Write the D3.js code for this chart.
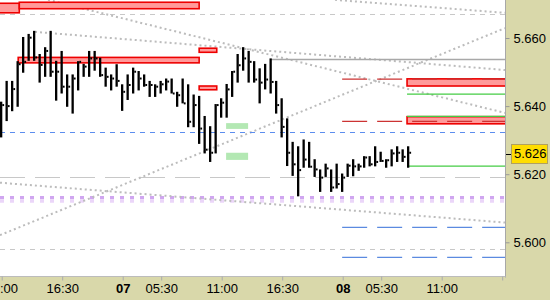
<!DOCTYPE html>
<html><head><meta charset="utf-8">
<script src="https://cdn.jsdelivr.net/npm/d3@7"></script>
<style>html,body{margin:0;padding:0;background:#d9d8aa;overflow:hidden}</style>
</head><body><svg id="c" width="550" height="300"></svg>
<script>
// ---- data ----
const highs = [5.6413,5.6474,5.6474,5.6532,5.6603,5.6612,5.6621,5.6553,5.6573,5.6621,
5.6533,5.6562,5.6493,5.6493,5.6532,5.6524,5.6562,5.6562,5.6542,5.6513,
5.6493,5.6523,5.6464,5.6493,5.6513,5.6503,5.6493,5.6474,5.6464,5.6474,
5.6481,5.6481,5.6442,5.6481,5.6464,5.6434,5.6430,5.6371,5.6341,5.6406,
5.6423,5.6465,5.6503,5.6553,5.6573,5.6562,5.6532,5.6511,5.6524,5.6540,
5.6474,5.6423,5.6364,5.6295,5.6282,5.6302,5.6295,5.6244,5.6214,5.6231,
5.6214,5.6231,5.6202,5.6231,5.6244,5.6231,5.6253,5.6253,5.6282,5.6266,
5.6244,5.6273,5.6282,5.6273,5.6282];
const lows = [5.6308,5.6356,5.6385,5.6398,5.6498,5.6533,5.6533,5.6469,5.6486,5.6486,
5.6416,5.6437,5.6398,5.6378,5.6446,5.6486,5.6486,5.6504,5.6486,5.6457,
5.6446,5.6457,5.6386,5.6418,5.6437,5.6446,5.6457,5.6427,5.6427,5.6437,
5.6446,5.6437,5.6398,5.6408,5.6338,5.6338,5.6289,5.6261,5.6236,5.6261,
5.6366,5.6366,5.6427,5.6469,5.6504,5.6469,5.6469,5.6408,5.6449,5.6437,
5.6378,5.6308,5.6224,5.6195,5.6135,5.6219,5.6219,5.6192,5.6148,5.6192,
5.6148,5.6158,5.6148,5.6192,5.6194,5.6210,5.6219,5.6223,5.6223,5.6236,
5.6219,5.6223,5.6236,5.6236,5.6219];
const closes = [5.6403,5.6400,5.6450,5.6523,5.6530,5.6601,5.6543,5.6521,5.6562,5.6501,
5.6501,5.6457,5.6457,5.6481,5.6530,5.6516,5.6540,5.6540,5.6491,5.6486,
5.6481,5.6474,5.6442,5.6462,5.6501,5.6481,5.6462,5.6462,5.6457,5.6464,
5.6472,5.6437,5.6432,5.6408,5.6354,5.6403,5.6334,5.6272,5.6263,5.6403,
5.6410,5.6449,5.6501,5.6520,5.6540,5.6530,5.6478,5.6469,5.6478,5.6471,
5.6403,5.6339,5.6263,5.6229,5.6212,5.6243,5.6222,5.6214,5.6190,5.6217,
5.6161,5.6171,5.6190,5.6225,5.6223,5.6223,5.6249,5.6229,5.6236,5.6239,
5.6241,5.6261,5.6263,5.6251,5.6263];

const timeTickSlots  = [0, 11, 22, 29, 40, 51, 62, 69, 80, 91];
const timeTickLabels = ["11:00","16:30","07","05:30","11:00","16:30","08","05:30","11:00",""];
const dayLabels = ["07","08"];
const priceTicks = [5.660, 5.640, 5.620, 5.600];
const lastPrice = 5.626;

// resistance / support zones (slot range, price range)
const redZoneStart = [-2, 3.2, 3.0, 35.9, 35.9, 73.7, 73.7];
const redZoneEnd   = [3.2, 35.9, 35.9, 39.1, 39.1, 95, 95];
const redZoneHigh  = [5.6702, 5.6705, 5.6543, 5.6570, 5.6459, 5.6480, 5.6369];
const redZoneLow   = [5.6674, 5.6686, 5.6527, 5.6558, 5.6448, 5.6459, 5.6348];

const greenZoneStart = [40.8, 40.8];
const greenZoneEnd   = [44.8, 44.8];
const greenZoneHigh  = [5.6350, 5.6263];
const greenZoneLow   = [5.6333, 5.6242];

const redDashLevels   = [5.6479, 5.6355];
const blueDashLevels  = [5.6044, 5.5956];
const projStartSlot   = 61.9;
const greenLevels     = [5.6435, 5.6370, 5.6224];
const greenStartSlot  = 73.7;
const pivotLevel      = 5.6323;
const grayShortLevels = [5.6670, 5.5980];
const grayLongLevels  = [5.6191];
const graySolidLevel  = 5.6537;
const graySolidStart  = 48.8;
const purpleLevel     = 5.6126;

const trendX0 = [8.42, 60.6, 6.06, -0.31, -0.31];
const trendY0 = [5.6712, 5.6712, 5.6618, 5.6021, 5.6175];
const trendX1 = [91.5, 91.5, 91.5, 91.5, 91.5];
const trendY1 = [5.6380, 5.6674, 5.6506, 5.6629, 5.6058];

// ---- layout ----
const W = 550, H = 300, PW = 505, PH = 277;
const x = d3.scaleLinear().domain([0, 80]).range([1.7, 441.7]);
const y = d3.scaleLinear().domain([5.600, 5.660]).range([242.3, 38]);
const xEnd = x.invert(PW + 5);
const snap = v => Math.round(v) + 0.5;

const svg = d3.select("#c");
svg.append("rect").attr("width", W).attr("height", H).attr("fill", "#d9d8aa");
svg.append("defs").append("clipPath").attr("id", "clip")
  .append("rect").attr("width", PW).attr("height", PH);
svg.append("rect").attr("width", PW).attr("height", PH).attr("fill", "#ffffff");

const g = svg.append("g").attr("clip-path", "url(#clip)");

function hline(v, s0, s1, color, width, dash, crisp) {
  const yy = crisp ? snap(y(v)) : y(v);
  g.append("line").attr("x1", x(s0)).attr("x2", x(s1)).attr("y1", yy).attr("y2", yy)
    .attr("stroke", color).attr("stroke-width", width)
    .attr("stroke-dasharray", dash || null);
}

// horizontal gray dashed levels
grayShortLevels.forEach(v => hline(v, -0.31, xEnd, "#c8c8c8", 1, "5,5", true));
grayLongLevels.forEach(v => hline(v, -0.31, xEnd, "#c8c8c8", 1, "25,10", true));

// purple band
g.append("line").attr("x1", 0).attr("x2", PW).attr("y1", y(purpleLevel) - 1.8).attr("y2", y(purpleLevel) - 1.8)
  .attr("stroke", "#d0a6f0").attr("stroke-width", 3.4).attr("stroke-dasharray", "4,6");
g.append("line").attr("x1", 0).attr("x2", PW).attr("y1", y(purpleLevel) + 1.6).attr("y2", y(purpleLevel) + 1.6)
  .attr("stroke", "#ebd6f9").attr("stroke-width", 3.4).attr("stroke-dasharray", "4,6");

// trend lines (dotted)
trendX0.forEach((s, i) => {
  g.append("line").attr("x1", x(s)).attr("y1", y(trendY0[i]))
    .attr("x2", x(trendX1[i])).attr("y2", y(trendY1[i]))
    .attr("stroke", "#bcbcbc").attr("stroke-width", 2).attr("stroke-dasharray", "2,3");
});

// gray solid level
hline(graySolidLevel, graySolidStart, xEnd, "#a8a8a8", 1.5, null, false);

// pivot
hline(pivotLevel, -0.31, xEnd, "#5b8def", 1, "5,5", true);

// green zones
greenZoneStart.forEach((s, i) => {
  g.append("rect").attr("x", x(s)).attr("width", x(greenZoneEnd[i]) - x(s))
    .attr("y", y(greenZoneHigh[i])).attr("height", y(greenZoneLow[i]) - y(greenZoneHigh[i]))
    .attr("fill", "#b3e8b3");
});

// red zones
redZoneStart.forEach((s, i) => {
  g.append("rect").attr("x", x(s)).attr("width", x(redZoneEnd[i]) - x(s))
    .attr("y", y(redZoneHigh[i])).attr("height", y(redZoneLow[i]) - y(redZoneHigh[i]))
    .attr("fill", "#ff9a9a").attr("stroke", "#ee0000").attr("stroke-width", 1.6);
});

// projection levels
redDashLevels.forEach(v => hline(v, projStartSlot, xEnd, "#cc3333", 1.3, "25,10", false));
blueDashLevels.forEach(v => hline(v, projStartSlot, xEnd, "#5b8ae0", 1.3, "25,10", false));
greenLevels.forEach(v => hline(v, greenStartSlot, xEnd, "#44cc44", 1.3, null, false));

// OHLC bars
const bars = g.append("g");
highs.forEach((h, i) => {
  const xc = x(i);
  bars.append("rect").attr("x", xc - 1.7).attr("width", 2.3)
    .attr("y", y(h)).attr("height", Math.max(1, y(lows[i]) - y(h))).attr("fill", "#000");
  bars.append("rect").attr("x", xc + 0.6).attr("width", 1.8)
    .attr("y", y(closes[i]) - 1).attr("height", 2).attr("fill", "#000");
});

// frame
svg.append("line").attr("x1", PW + 0.5).attr("x2", PW + 0.5).attr("y1", 0).attr("y2", PH + 0.5)
  .attr("stroke", "#a8a8a8");
svg.append("line").attr("x1", 0).attr("x2", PW + 0.5).attr("y1", PH - 0.5).attr("y2", PH - 0.5)
  .attr("stroke", "#bcbcbc");

// right axis
const ra = svg.append("g").attr("transform", `translate(${PW + 0.5},0)`)
  .call(d3.axisRight(y).tickValues(priceTicks).tickFormat(d3.format(".3f")).tickSize(4).tickPadding(4));
ra.select(".domain").remove();
ra.selectAll("line").attr("stroke", "#999");
ra.selectAll("text").attr("font-family", "'Liberation Sans', Arial, sans-serif")
  .attr("font-size", 13).attr("fill", "#000");

// last price label
const ly = y(lastPrice);
svg.append("line").attr("x1", PW + 1).attr("x2", PW + 6).attr("y1", snap(ly)).attr("y2", snap(ly))
  .attr("stroke", "#000");
svg.append("rect").attr("x", 511.5).attr("y", Math.round(ly) - 10 + 0.5).attr("width", 36).attr("height", 19)
  .attr("fill", "#ffdd00").attr("stroke", "#b0a060");
svg.append("text").attr("x", 514).attr("y", ly).attr("dy", "0.32em")
  .attr("font-family", "'Liberation Sans', Arial, sans-serif").attr("font-size", 13)
  .attr("fill", "#000").text(d3.format(".3f")(lastPrice));

// bottom axis
const ba = svg.append("g").attr("transform", `translate(0,${PH - 0.5})`)
  .call(d3.axisBottom(x).tickValues(timeTickSlots).tickFormat((d, i) => timeTickLabels[i]).tickSize(4).tickPadding(3.5));
ba.select(".domain").remove();
ba.selectAll("line").attr("stroke", "#aaa");
ba.selectAll("text").attr("font-family", "'Liberation Sans', Arial, sans-serif")
  .attr("font-size", 13).attr("fill", "#000")
  .attr("font-weight", (d, i) => dayLabels.includes(timeTickLabels[i]) ? "bold" : null);
</script></body></html>
